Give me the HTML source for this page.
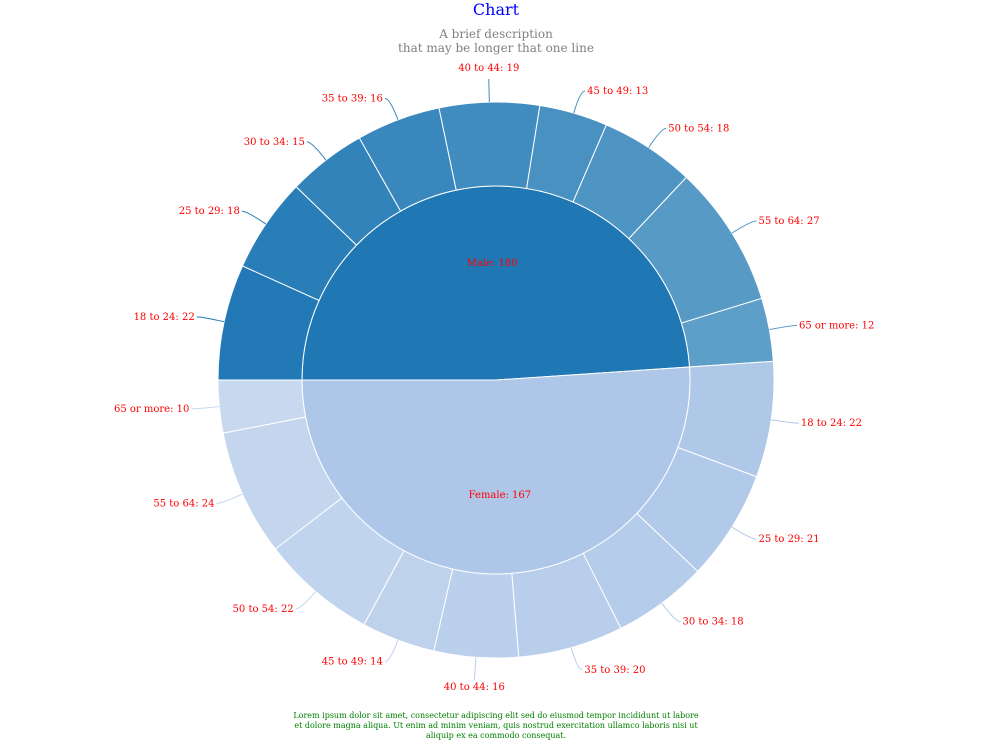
<!DOCTYPE html>
<html><head><meta charset="utf-8"><style>
body{margin:0;background:#fff;}
svg text{font-family:"DejaVu Serif","Liberation Serif",serif;}
</style></head><body>
<svg id="chart" width="992" height="744" viewBox="0 0 992 744">
<text x="496" y="15" text-anchor="middle" fill="#0000ff" font-size="16">Chart</text>
<text x="496" y="38" text-anchor="middle" fill="#808080" font-size="12">A brief description</text>
<text x="496" y="52" text-anchor="middle" fill="#808080" font-size="12">that may be longer that one line</text>
<g id="rings"></g>
<g id="labels"></g>
<text x="496" y="718" text-anchor="middle" fill="#008000" font-size="8">Lorem ipsum dolor sit amet, consectetur adipiscing elit sed do eiusmod tempor incididunt ut labore</text>
<text x="496" y="728" text-anchor="middle" fill="#008000" font-size="8">et dolore magna aliqua. Ut enim ad minim veniam, quis nostrud exercitation ullamco laboris nisi ut</text>
<text x="496" y="738" text-anchor="middle" fill="#008000" font-size="8">aliquip ex ea commodo consequat.</text>
</svg>
<script>
const groups = ["Male", "Female"];
const groupLabels = [180, 167];
const ageCategories = ["18 to 24","25 to 29","30 to 34","35 to 39","40 to 44","45 to 49","50 to 54","55 to 64","65 or more"];
const maleValues = [22, 18, 15, 16, 19, 13, 18, 27, 12];
const femaleValues = [22, 21, 18, 20, 16, 14, 22, 24, 10];

const NS = "http://www.w3.org/2000/svg";
const cx = 496, cy = 380, r0 = 194, r1 = 278;
const rings = document.getElementById("rings");
const labels = document.getElementById("labels");
const series = [maleValues, femaleValues];
const total = maleValues.reduce((a,b)=>a+b,0) + femaleValues.reduce((a,b)=>a+b,0);
const angleOf = v => v / total * Math.PI * 2;
const pt = (r, a) => [cx + r*Math.cos(a), cy + r*Math.sin(a)];
function arc(ri, ro, a0, a1) {
  const large = (a1 - a0) > Math.PI ? 1 : 0;
  const p0 = pt(ro,a0), p1 = pt(ro,a1), p2 = pt(ri,a1), p3 = pt(ri,a0);
  if (ri === 0) return `M${cx},${cy}L${p0}A${ro},${ro} 0 ${large} 1 ${p1}Z`;
  return `M${p0}A${ro},${ro} 0 ${large} 1 ${p1}L${p2}A${ri},${ri} 0 ${large} 0 ${p3}Z`;
}
function mix(c1, c2, t) {
  return "rgb(" + c1.map((v,i)=>Math.round(v+(c2[i]-v)*t)).join(",") + ")";
}
const baseCols = [[31,119,180],[174,199,232]];
const lightCols = [[98,161,202],[200,217,239]];
let a = Math.PI;
series.forEach((vals, gi) => {
  const sum = vals.reduce((x,y)=>x+y,0);
  const ga0 = a, ga1 = a + angleOf(sum);
  const inner = document.createElementNS(NS, "path");
  inner.setAttribute("d", arc(0, r0, ga0, ga1));
  inner.setAttribute("fill", mix(baseCols[gi], baseCols[gi], 0));
  inner.setAttribute("stroke", "#fff");
  
  
  rings.appendChild(inner);
  const gm = (ga0 + ga1) / 2;
  const ip = pt(116, gm);
  const it = document.createElementNS(NS, "text");
  it.setAttribute("x", ip[0]); it.setAttribute("y", ip[1] + 2);
  it.setAttribute("text-anchor", "middle"); it.setAttribute("font-size", "10"); it.setAttribute("fill", "#ff0000");
  it.textContent = groups[gi] + ": " + groupLabels[gi];
  
  
  labels.appendChild(it);
  let b = ga0;
  vals.forEach((v, i) => {
    const b1 = b + angleOf(v);
    const col = mix(baseCols[gi], lightCols[gi], (i + 0.5) / vals.length);
    const seg = document.createElementNS(NS, "path");
    seg.setAttribute("d", arc(r0, r1, b, b1));
    seg.setAttribute("fill", col);
    seg.setAttribute("stroke", "#fff");
    
    
    rings.appendChild(seg);
    const m = (b + b1) / 2;
    const p0 = pt(r1, m), p1 = pt(r1 + 23, m);
    const right = Math.cos(m) >= 0;
    const vertical = Math.abs(Math.cos(m)) < 0.1;
    const below = Math.sin(m) > 0;
    const p2 = vertical ? p1 : [p1[0] + (right ? 5 : -5), p1[1]];
    const ln = document.createElementNS(NS, "path");
    ln.setAttribute("d", `M${p0}Q${p1} ${p2}`);
    ln.setAttribute("fill", "none"); ln.setAttribute("stroke", col); ln.setAttribute("stroke-width", "1");
    
    
    labels.appendChild(ln);
    const t = document.createElementNS(NS, "text");
    t.setAttribute("x", vertical ? p1[0] : p2[0] + (right ? 2 : -2));
    t.setAttribute("y", vertical ? (below ? p1[1] + 10 : p1[1] - 8) : p2[1] + 3);
    t.setAttribute("text-anchor", vertical ? "middle" : (right ? "start" : "end"));
    t.setAttribute("font-size", "10"); t.setAttribute("fill", "#ff0000");
    t.textContent = ageCategories[i] + ": " + v;
    
    
    labels.appendChild(t);
    b = b1;
  });
  a = ga1;
});
</script>
</body></html>
